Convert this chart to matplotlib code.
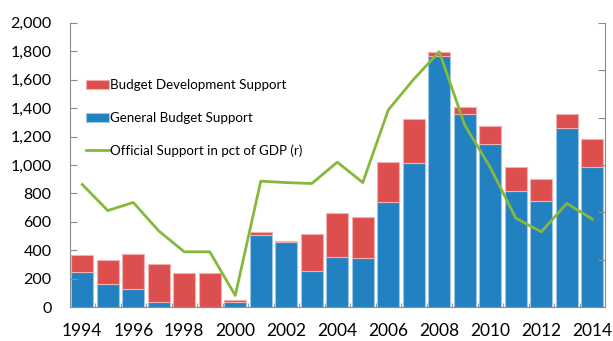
import matplotlib.pyplot as plt
import numpy as np

years = np.arange(1994, 2015)
general = [251, 162, 131, 40, 3, 5, 40, 506, 457, 258, 351, 344, 738, 1014,
           1766, 1356, 1148, 815, 747, 1260, 986]
total = [365, 333, 375, 302, 239, 244, 51, 532, 466, 518, 665, 632, 1019, 1323,
         1794, 1405, 1277, 986, 900, 1361, 1181]
development = [t - g for t, g in zip(total, general)]
# official support, pct of GDP (right axis)
official = [2.59, 2.04, 2.21, 1.61, 1.17, 1.17, 0.25, 2.66, 2.63, 2.61, 3.06,
            2.63, 4.16, 4.81, 5.39, 3.84, 2.95, 1.88, 1.59, 2.19, 1.86]
xticks = np.arange(1994, 2015, 2)

blue = "#2181C1"
red = "#DD4F4E"
green = "#86B83C"
grey = "#8C8C8C"

plt.rcParams['font.family'] = ['Lato', 'DejaVu Sans']
fig = plt.figure(figsize=(6.13, 3.41), dpi=100)
ax = fig.add_axes([0.1134, 0.0988, 0.8736, 0.8346])
ax2 = ax.twinx()

b1 = ax.bar(years, general, width=0.86, color=blue, edgecolor="#9CC6E6", linewidth=0.8)
b2 = ax.bar(years, development, bottom=general, width=0.86, color=red,
            edgecolor="#F2B0B0", linewidth=0.8)
l1, = ax2.plot(years, official, color=green, lw=2)

ax.set_xlim(1993.52, 2014.46)
ax.set_ylim(0, 2000)
ax.set_yticks(np.arange(0, 2001, 200))
ax.set_yticklabels([f"{v:,}" for v in range(0, 2001, 200)])
ax.set_xticks(xticks)
ax.set_xticks(np.arange(1993.5, 2014.6, 1), minor=True)
ax.tick_params(axis='x', which='major', length=0, pad=11, labelsize=12.5)
ax.tick_params(axis='x', which='minor', length=3, direction='in', color=grey)
ax.tick_params(axis='y', length=5, direction='in', color=grey, labelsize=11.5, pad=13)

ax2.set_ylim(0, 6)
ax2.set_yticks(np.arange(0, 7, 1))
ax2.set_yticklabels([])
ax2.tick_params(axis='y', length=5, direction='in', color=grey)

for a in (ax, ax2):
    a.spines['top'].set_visible(False)
    for s in ('left', 'right', 'bottom'):
        a.spines[s].set_color(grey)
ax.spines['right'].set_visible(False)
ax2.spines['left'].set_visible(False)
ax2.spines['bottom'].set_visible(False)

ax.legend([b2, b1, l1],
          ["Budget Development Support", "General Budget Support",
           "Official Support in pct of GDP (r)"],
          loc='upper left', bbox_to_anchor=(0.021, 0.82), frameon=False,
          fontsize=9.6, labelspacing=1.55, handlelength=1.75, handletextpad=0.08,
          borderaxespad=0)

fig.savefig("out.png", dpi=100)
